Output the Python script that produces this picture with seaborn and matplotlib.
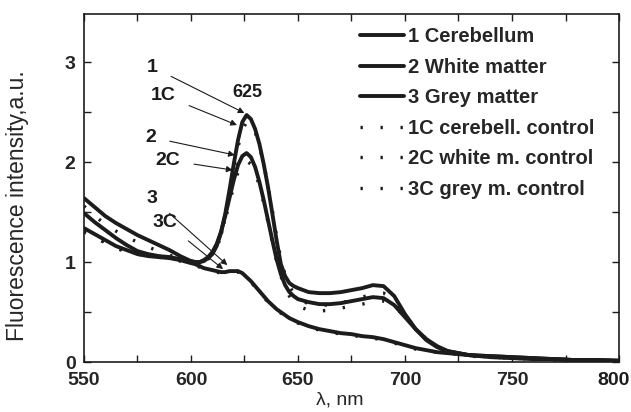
import matplotlib
matplotlib.use("Agg")
import matplotlib.pyplot as plt
import seaborn as sns
from matplotlib.ticker import MultipleLocator, FuncFormatter

# wavelength grid (nm)
wavelength = ([550, 555, 560, 565, 570, 575, 580, 585, 590, 595, 600]
              + list(range(602, 649, 2))
              + list(range(650, 721, 5))
              + [730, 740, 750, 760, 770, 780, 790, 800])

cerebellum = [1.64, 1.55, 1.46, 1.39, 1.33, 1.27, 1.22, 1.17, 1.12, 1.06, 1.01,
              1.00, 1.00, 1.01, 1.04, 1.08, 1.16, 1.29, 1.48, 1.72, 1.98, 2.22, 2.40,
              2.47, 2.43, 2.33, 2.18, 1.98, 1.75, 1.49, 1.22, 0.98, 0.86, 0.79, 0.76,
              0.74, 0.70, 0.69, 0.69, 0.70, 0.72, 0.74, 0.77, 0.76, 0.66, 0.48, 0.33,
              0.22, 0.15, 0.11,
              0.07, 0.06, 0.05, 0.04, 0.03, 0.02, 0.02, 0.015]
white_matter = [1.49, 1.40, 1.32, 1.24, 1.17, 1.11, 1.08, 1.06, 1.05, 1.03, 1.01,
                1.00, 1.00, 1.02, 1.05, 1.10, 1.18, 1.30, 1.46, 1.64, 1.82, 1.97, 2.06,
                2.09, 2.05, 1.95, 1.80, 1.62, 1.42, 1.22, 1.03, 0.88, 0.77, 0.70, 0.66,
                0.63, 0.60, 0.58, 0.58, 0.59, 0.61, 0.63, 0.65, 0.64, 0.57, 0.45, 0.33,
                0.23, 0.16, 0.11,
                0.07, 0.06, 0.05, 0.04, 0.03, 0.02, 0.02, 0.015]
grey_matter = [1.34, 1.28, 1.22, 1.16, 1.12, 1.08, 1.06, 1.05, 1.04, 1.02, 0.99,
               0.98, 0.96, 0.94, 0.93, 0.92, 0.91, 0.90, 0.90, 0.91, 0.91, 0.91, 0.89,
               0.85, 0.81, 0.76, 0.71, 0.66, 0.61, 0.57, 0.53, 0.50, 0.47, 0.44, 0.42,
               0.40, 0.36, 0.33, 0.31, 0.29, 0.28, 0.26, 0.25, 0.23, 0.20, 0.17, 0.14,
               0.12, 0.10, 0.09,
               0.07, 0.05, 0.04, 0.03, 0.03, 0.02, 0.02, 0.01]
cerebell_control = [1.56, 1.46, 1.38, 1.31, 1.25, 1.20, 1.15, 1.11, 1.07, 1.03, 1.00,
                    0.99, 0.99, 1.00, 1.03, 1.07, 1.14, 1.26, 1.44, 1.67, 1.92, 2.15, 2.32,
                    2.40, 2.39, 2.30, 2.16, 1.98, 1.77, 1.52, 1.26, 1.03, 0.87, 0.76, 0.69,
                    0.64, 0.58, 0.57, 0.57, 0.59, 0.62, 0.65, 0.68, 0.69, 0.62, 0.47, 0.34,
                    0.23, 0.15, 0.10,
                    0.07, 0.05, 0.04, 0.03, 0.03, 0.02, 0.02, 0.01]
white_control = [1.31, 1.25, 1.19, 1.14, 1.10, 1.08, 1.07, 1.05, 1.04, 1.02, 1.00,
                 0.99, 0.99, 1.01, 1.04, 1.09, 1.16, 1.27, 1.42, 1.59, 1.76, 1.90, 1.98,
                 2.01, 1.98, 1.90, 1.76, 1.59, 1.40, 1.20, 1.01, 0.86, 0.74, 0.66, 0.60,
                 0.56, 0.52, 0.51, 0.52, 0.54, 0.56, 0.58, 0.60, 0.61, 0.56, 0.45, 0.33,
                 0.23, 0.15, 0.10,
                 0.07, 0.05, 0.04, 0.03, 0.03, 0.02, 0.02, 0.01]
grey_control = [1.30, 1.25, 1.20, 1.15, 1.11, 1.08, 1.06, 1.05, 1.03, 1.01, 0.98,
                0.97, 0.95, 0.93, 0.92, 0.91, 0.90, 0.89, 0.89, 0.90, 0.90, 0.90, 0.88,
                0.84, 0.80, 0.75, 0.70, 0.65, 0.60, 0.56, 0.52, 0.49, 0.46, 0.43, 0.41,
                0.39, 0.35, 0.32, 0.30, 0.28, 0.27, 0.25, 0.24, 0.22, 0.19, 0.16, 0.13,
                0.11, 0.10, 0.09,
                0.06, 0.05, 0.04, 0.03, 0.02, 0.02, 0.01, 0.01]

solid_series = [("1 Cerebellum", cerebellum), ("2 White matter", white_matter),
                ("3 Grey matter", grey_matter)]
dotted_series = [("1C cerebell. control", cerebell_control),
                 ("2C white m. control", white_control),
                 ("3C grey m. control", grey_control)]

# curve labels: (text, text x, text y, arrow tip x, arrow tip y)
curve_labels = [("1", 582, 2.95, 625, 2.49),
                ("1C", 587, 2.67, 621.5, 2.37),
                ("2", 581, 2.25, 620.5, 2.07),
                ("2C", 589, 2.02, 619.5, 1.92),
                ("3", 582, 1.64, 617, 0.97),
                ("3C", 588, 1.40, 615, 0.93)]

sns.set_style("ticks")
plt.rcParams["font.family"] = ["Liberation Sans", "DejaVu Sans"]

fig = plt.figure(figsize=(6.31, 4.12), dpi=100)
ax = fig.add_axes([0.133, 0.121, 0.848, 0.845])
ink = "#1c1c1c"

for name, vals in solid_series:
    sns.lineplot(x=wavelength, y=vals, ax=ax, color=ink, linewidth=2.8,
                 label=name, estimator=None, sort=False)
for name, vals in dotted_series:
    sns.lineplot(x=wavelength, y=vals, ax=ax, color=ink, linewidth=2.4,
                 label=name, estimator=None, sort=False,
                 linestyle=(0, (0.7, 5.3)))

for txt, tx, ty, ax_, ay in curve_labels:
    ax.annotate(txt, xy=(ax_, ay), xytext=(tx, ty), ha="center", va="center",
                fontsize=14, fontweight="bold", color=ink,
                arrowprops=dict(arrowstyle="-|>", color=ink, lw=0.8,
                                shrinkA=8, shrinkB=0, mutation_scale=9))
ax.text(626.5, 2.70, "625", ha="center", va="center", fontsize=13,
        fontweight="bold", color=ink)

ax.set_xlim(550, 800)
ax.set_ylim(0, 3.48)
ax.xaxis.set_major_locator(MultipleLocator(50))
ax.xaxis.set_minor_locator(MultipleLocator(25))
ax.yaxis.set_major_locator(MultipleLocator(1))
ax.yaxis.set_minor_locator(MultipleLocator(0.5))
# the 800 label is drawn separately, nudged left so it fits the figure
ax.xaxis.set_major_formatter(FuncFormatter(lambda v, p: "" if v >= 800 else f"{v:.0f}"))
ax.tick_params(which="both", direction="in", top=True, right=True,
               labelsize=14, width=1, color=ink, length=5)
ax.tick_params(axis="x", pad=7)
ax.tick_params(axis="y", pad=6)
for lab in ax.get_xticklabels() + ax.get_yticklabels():
    lab.set_fontweight("bold")
ax.annotate("800", xy=(800, 0), xycoords=("data", "axes fraction"),
            xytext=(-4, -7), textcoords="offset points", ha="center", va="top",
            fontsize=14, fontweight="bold", color=ink)
for sp in ax.spines.values():
    sp.set_linewidth(1.2)
    sp.set_color(ink)

ax.set_xlabel("λ, nm", fontsize=14)
ax.xaxis.set_label_coords(0.478, -0.085)
ax.set_ylabel("Fluorescence intensity,a.u.", fontsize=16.5)
ax.yaxis.set_label_coords(-0.102, 0.45)

leg = ax.legend(loc="upper left", bbox_to_anchor=(0.50, 0.985), frameon=False,
                prop={"weight": "bold", "size": 14.5}, handlelength=2.2,
                handletextpad=0.2, labelspacing=0.57, borderaxespad=0)

fig.savefig("out.png", dpi=100)
